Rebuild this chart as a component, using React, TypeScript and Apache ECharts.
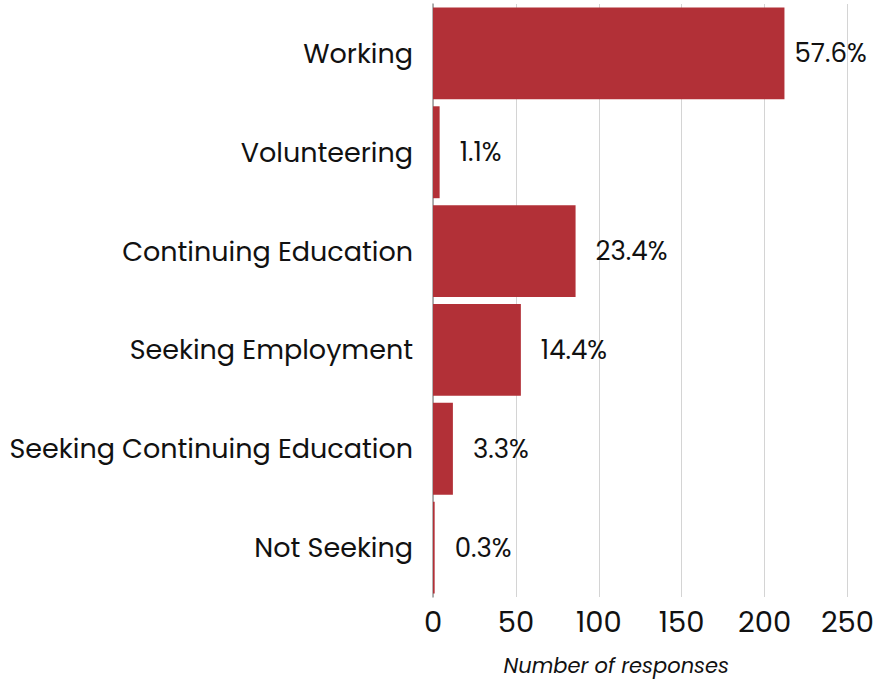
import React, { useEffect, useRef } from "react";
import * as echarts from "echarts";

const categories = [
  "Working",
  "Volunteering",
  "Continuing Education",
  "Seeking Employment",
  "Seeking Continuing Education",
  "Not Seeking",
];
const responses = [212, 4, 86, 53, 12, 1];
const percentLabels = ["57.6%", "1.1%", "23.4%", "14.4%", "3.3%", "0.3%"];
const xTicks = [0, 50, 100, 150, 200, 250];

const FONT = "Poppins, Inter, 'Noto Sans', sans-serif";

export default function App() {
  const ref = useRef<HTMLDivElement>(null);
  useEffect(() => {
    if (!ref.current) return;
    const chart = echarts.init(ref.current, undefined, { renderer: "svg" });
    const maxVal = Math.max(...responses);
    chart.setOption({
      animation: false,
      grid: { left: 433, right: 26, top: 4, bottom: 83, containLabel: false },
      xAxis: {
        type: "value",
        min: xTicks[0],
        max: xTicks[xTicks.length - 1],
        interval: 50,
        name: "Number of responses",
        nameLocation: "middle",
        nameGap: 58,
        nameTextStyle: {
          fontFamily: FONT,
          fontStyle: "italic",
          fontSize: 21,
          color: "#111",
          padding: [0, 48, 0, 0],
        },
        axisLine: { show: false },
        axisTick: { show: false },
        axisLabel: { fontFamily: FONT, fontSize: 29, color: "#111", margin: 10 },
        splitLine: { show: true, lineStyle: { color: "#d4d4d4", width: 1 } },
      },
      yAxis: {
        type: "category",
        inverse: true,
        data: categories,
        axisLine: { show: true, lineStyle: { color: "#9a9a9a", width: 1.5 } },
        axisTick: { show: false },
        axisLabel: { fontFamily: FONT, fontSize: 27, color: "#111", margin: 20 },
      },
      series: [
        {
          type: "bar",
          data: responses.map((v) =>
            v === maxVal ? { value: v, label: { distance: 10 } } : v
          ),
          barCategoryGap: "7%",
          itemStyle: { color: "#b23037" },
          label: {
            show: true,
            position: "right",
            distance: 20,
            fontFamily: FONT,
            fontSize: 26,
            color: "#111",
            formatter: (p: any) => percentLabels[p.dataIndex],
          },
        },
      ],
    });
    return () => chart.dispose();
  }, []);
  return (
    <div
      ref={ref}
      style={{ position: "fixed", left: 0, top: 0, width: 877, height: 681, background: "#fff" }}
    />
  );
}
